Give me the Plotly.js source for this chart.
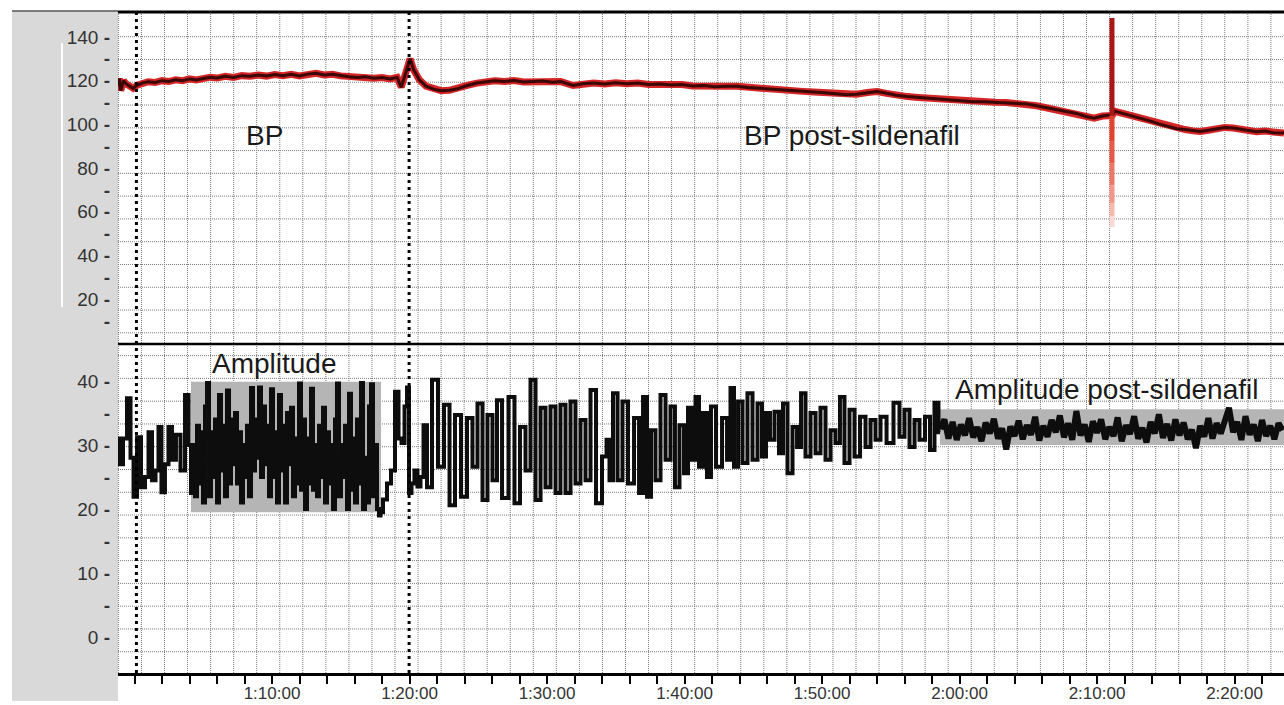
<!DOCTYPE html>
<html><head><meta charset="utf-8">
<script src="https://cdn.plot.ly/plotly-3.0.1.min.js"></script>
<style>html,body{margin:0;padding:0;background:#fff}#chart{width:1284px;height:705px}</style>
</head><body><div id="chart"></div>
<script>
// ---------- DATA (time in minutes from 0:00:00) ----------
const bpTime = [58.8,58.9,59.0,59.2,59.4,59.7,59.9,60.2,60.6,61.0,61.5,62.0,62.5,63.0,63.5,64.0,64.5,65.0,65.5,66.0,66.6,67.2,67.8,68.4,69.0,69.6,70.2,70.8,71.4,72.0,72.6,73.2,73.8,74.4,75.0,75.6,76.2,76.8,77.4,78.0,78.6,79.1,79.4,79.6,79.85,80.04,80.3,80.7,81.2,81.8,82.3,82.9,83.5,84.2,84.9,85.5,86.2,86.9,87.6,88.3,89.0,89.7,90.4,91.0,91.9,92.6,93.4,94.2,95.0,95.8,96.6,97.4,98.2,99.0,99.8,100.6,101.4,102.2,103.0,103.8,104.6,105.4,106.2,107.0,107.8,108.6,109.4,110.2,111.0,111.8,112.5,113.3,114.0,114.7,115.4,116.2,117.0,117.8,118.6,119.4,120.2,121.0,121.8,122.6,123.4,124.2,124.9,125.6,126.3,127.1,127.8,128.5,129.2,129.8,130.4,130.9,131.1,131.3,131.6,132.0,132.6,133.2,133.9,134.5,135.2,135.8,136.4,137.0,137.5,138.1,138.7,139.3,139.9,140.5,141.0,141.6,142.2,142.8,143.6];
const bpValue = [117.5,121,115.5,120,118.5,117.5,116.5,118,119,119.5,119.2,120,119.6,120.4,120,120.8,120.3,121,121.6,121.2,122,121.5,122.3,122,122.6,122.1,122.8,122.3,122.9,122.2,123,123.4,122.6,122.9,122.2,121.8,121.5,121.8,121.1,121.4,120.8,121.5,117,121,126,130,125,120.5,117.5,116,115.4,115.6,116.3,117.8,118.9,119.5,120,119.6,120.1,119.4,119.5,119.9,119.3,119.6,117.8,118.6,118.9,118.5,119,118.6,118.9,118.3,118.5,118,118.2,117.6,117.8,117.2,117.5,117.4,116.9,116.6,116.1,115.9,115.6,115.1,114.8,114.5,114,113.5,113.8,114.6,115,114.2,113.3,112.7,112.3,111.9,111.5,111.2,110.8,110.4,110.3,110.1,110,109.6,109.3,108.5,107.6,106.6,105.8,105,103.6,102.8,103.8,104.3,104,106,105.5,104.8,103.9,102.8,101.5,100.2,99.1,98,97.6,97,96.7,97.3,98,98.6,98.3,97.7,97.1,96.6,96.9,96.2,96];

const spikeTime = 131.09;
const spikeLevels = [148.7, 104, 92, 82, 72, 64, 58, 53];

const ampTime = [58.80,59.02,59.31,59.60,59.82,60.04,60.33,60.62,60.91,61.13,61.42,61.64,61.85,62.07,62.36,62.58,62.87,63.16,63.53,63.82,64.04,64.18,
64.33,64.47,64.62,64.76,64.91,65.05,65.20,65.35,65.49,65.64,65.78,65.93,66.07,66.22,66.36,66.51,66.65,66.80,66.95,67.09,67.24,67.38,67.53,67.67,67.82,67.96,68.11,68.25,68.40,68.55,68.69,68.84,68.98,69.13,69.27,69.42,69.56,69.71,69.85,70.00,70.15,70.29,70.44,70.58,70.73,70.87,71.02,71.16,71.31,71.45,71.60,71.75,71.89,72.04,72.18,72.33,72.47,72.62,72.76,72.91,73.05,73.20,73.35,73.49,73.64,73.78,73.93,74.07,74.22,74.36,74.51,74.65,74.80,74.95,75.09,75.24,75.38,75.53,75.67,75.82,75.96,76.11,76.25,76.40,76.55,76.69,76.84,76.98,77.13,77.27,77.42,77.56,77.71,77.85,
77.93,78.22,78.51,78.80,79.09,79.31,79.53,79.75,79.89,80.04,80.25,80.47,80.69,80.91,81.13,81.42,
81.85,82.29,82.73,83.09,83.53,83.96,84.40,84.76,85.13,85.49,85.85,86.22,86.51,86.95,87.45,87.82,88.25,88.62,88.98,89.35,89.71,90.07,90.44,90.80,91.16,91.53,91.89,92.25,92.62,92.98,93.35,93.78,94.22,94.44,94.65,94.95,95.31,95.67,96.11,96.55,96.84,97.13,97.42,97.71,98.07,98.44,98.80,99.16,99.45,99.82,100.11,100.40,100.69,100.91,101.20,101.49,101.78,102.07,102.51,102.95,103.24,103.45,103.75,104.04,104.40,104.76,105.13,105.49,105.78,106.07,106.36,106.73,107.02,107.31,107.67,108.04,108.33,108.62,108.98,109.35,109.71,110.07,110.44,110.80,111.16,111.45,111.82,112.18,
112.55,112.98,113.35,113.71,114.07,114.44,114.95,115.45,115.82,116.18,116.55,116.91,117.27,117.71,118.00,118.36,118.58];
const ampValue = [31,27,31,37.3,28,21.9,31.2,23.4,25,32,24.5,26,32.8,22.6,27,32.8,27.7,31.6,26,37.8,30,22.5,
30,22,33,24,32,21,36,39.7,22,32,25,34,21,37.8,26,33,22,38.5,24,34,27,35,24,32,21,30,25,33,22,38.9,26,34,28,39,25,36,27,33,22,38.7,25,32,21,37.8,26,33,21,35,27,35.8,22,31,24,39.6,23,34,20,31,24,38.8,23,30,22,33,25,35.8,21,32,24,30,20,34,39.6,22,30,25,33,20,38,23,31,21,34,24,39.7,20,28,21,36,39.5,22,30,20,19,
19.5,21.5,24,26,38.3,31,30.3,36,39,22.5,24,26,23.5,25,33.1,23.4,
40.2,26.6,36.3,20.6,34.7,21.9,34.2,26.6,36.5,21.4,34.7,24.5,37,21.7,37.5,20.9,32.8,26,40.2,21.4,35.8,23.4,36,22.5,36.3,22.5,36.8,24,33.9,24.5,38.6,20.9,28.2,30.8,24.5,38.1,24.5,36.8,24,34.2,22.5,37.5,21.9,32.3,24.5,37.8,27.7,36,23.4,33.1,25.6,35.8,27.7,37.5,26.6,35,25,36,26.6,34.2,27.7,38.9,26.6,36.8,27.2,38.1,27.7,36.5,28.2,35,30.8,35.2,28.7,36.5,25.6,32.8,29.7,38.1,28.2,35,28.7,35.8,27.7,32.3,30.3,37.5,27.2,35.5,
28.2,34.4,29.7,33.9,30.8,34.4,30.3,36.6,31.3,35.5,29.7,33.9,30.8,34.4,29.2,36.6,32];

const ampPostStart = 118.6;
const ampPostStep = 0.3;
const ampPostValue = [32.5,34.0,31.0,33.6,30.8,33.2,31.5,34.2,31.2,32.8,30.6,33.5,31.8,34.1,31.0,32.6,29.3,32.9,31.4,33.8,30.9,33.1,31.6,34.4,30.7,33.0,31.3,33.9,32.0,34.6,31.2,33.4,30.8,35.3,31.5,33.2,30.5,33.7,31.9,34.0,30.9,32.8,31.4,34.3,30.6,33.1,31.7,34.5,31.0,32.7,30.4,33.6,31.8,34.8,31.1,33.3,30.7,34.0,31.5,33.5,30.9,32.4,29.5,33.0,31.3,34.2,31.0,33.4,31.8,34.0,35.8,32.0,33.6,30.8,34.5,31.6,33.2,30.6,33.9,31.4,33.0,30.9,33.4,32.3];

const markerTimes = [60.14, 79.97];
const boxTimes = [[64.11, 77.93], [118.58, 143.6]];
const boxValues = [[19.5, 39.9], [30.0, 35.6]];

const xTickMinutes = [70, 80, 90, 100, 110, 120, 130, 140];
const xTickLabels = ['1:10:00','1:20:00','1:30:00','1:40:00','1:50:00','2:00:00','2:10:00','2:20:00'];
const bpTickVals = [10,20,30,40,50,60,70,80,90,100,110,120,130,140];
const ampTickVals = [0,5,10,15,20,25,30,35,40];

const labelBP = 'BP', labelBPpost = 'BP post-sildenafil';
const labelAmp = 'Amplitude', labelAmpPost = 'Amplitude post-sildenafil';

// ---------- BUILD ----------
const FONT = 'Liberation Sans, Arial, Helvetica, sans-serif';
const W = 1284, H = 705, ML = 118, MR = 0, MT = 12, MB = 32;
const PW = W - ML - MR, PH = H - MT - MB;
const px2x = p => (p - ML) / PW;
const py2y = p => (H - MB - p) / PH;

const ampPostTime = ampPostValue.map((_, i) => ampPostStart + i * ampPostStep);

const traces = [];
traces.push({x: ampTime, y: ampValue, xaxis: 'x', yaxis: 'y2', mode: 'lines',
  line: {color: '#0d0d0d', width: 4, shape: 'hvh'}, hoverinfo: 'skip'});
traces.push({x: ampPostTime, y: ampPostValue, xaxis: 'x', yaxis: 'y2', mode: 'lines',
  line: {color: '#0d0d0d', width: 6}, hoverinfo: 'skip'});
traces.push({x: bpTime, y: bpValue, xaxis: 'x', yaxis: 'y', mode: 'lines',
  line: {color: '#d42626', width: 7}, hoverinfo: 'skip'});
traces.push({x: bpTime, y: bpValue, xaxis: 'x', yaxis: 'y', mode: 'lines',
  line: {color: '#3a0606', width: 3}, hoverinfo: 'skip'});
const spikeColors = ['#a81818', '#e2432f', '#e55a46', '#ea7866', '#f09787', '#f5b9ad', '#f9d9d2'];
for (let i = 0; i < spikeLevels.length - 1; i++) {
  traces.push({x: [spikeTime, spikeTime], y: [spikeLevels[i], spikeLevels[i + 1]], xaxis: 'x', yaxis: 'y',
    mode: 'lines', line: {color: spikeColors[i], width: 5}, hoverinfo: 'skip'});
}

const shapes = [];
shapes.push({type: 'rect', xref: 'paper', yref: 'paper', x0: px2x(12), x1: 0, y0: py2y(701), y1: py2y(11),
  fillcolor: '#d9d9d9', line: {width: 0}, layer: 'below'});
shapes.push({type: 'line', xref: 'paper', yref: 'paper', x0: px2x(62), x1: px2x(62), y0: py2y(43), y1: py2y(307),
  line: {color: '#ffffff', width: 2}, layer: 'below'});
for (let k = 0; k <= 50; k++) {
  const xp = px2x(118.4 + 23.05 * k);
  if (xp > 1) break;
  shapes.push({type: 'line', xref: 'paper', yref: 'paper', x0: xp, x1: xp, y0: 0, y1: 1,
    line: {color: '#7a7a7a', width: 1, dash: '1px,1px'}, layer: 'below'});
}
for (let k = 1; k <= 28; k++) {
  const yp = py2y(13.9 + 22.78 * k);
  shapes.push({type: 'line', xref: 'paper', yref: 'paper', x0: 0, x1: 1, y0: yp, y1: yp,
    line: {color: '#7a7a7a', width: 1, dash: '1px,1px'}, layer: 'below'});
}
for (let i = 0; i < boxTimes.length; i++) {
  shapes.push({type: 'rect', xref: 'x', yref: 'y2', x0: boxTimes[i][0], x1: boxTimes[i][1],
    y0: boxValues[i][0], y1: boxValues[i][1], fillcolor: '#b5b5b5', line: {width: 0}, layer: 'below'});
}
shapes.push({type: 'line', xref: 'paper', yref: 'paper', x0: px2x(12), x1: 0, y0: py2y(11), y1: py2y(11),
  line: {color: '#555', width: 1.5}});
shapes.push({type: 'line', xref: 'paper', yref: 'paper', x0: 0, x1: 1, y0: py2y(12), y1: py2y(12),
  line: {color: '#000', width: 3}});
shapes.push({type: 'line', xref: 'paper', yref: 'paper', x0: 0, x1: 1, y0: py2y(344), y1: py2y(344),
  line: {color: '#000', width: 2.5}});
markerTimes.forEach(t => shapes.push({type: 'line', xref: 'x', yref: 'paper', x0: t, x1: t, y0: 0, y1: 1,
  line: {color: '#000', width: 3, dash: '3px,4px'}}));

const yTickText = (vals, step) => vals.map(v => v % step === 0 ? v + ' <b>-</b>' : '<b>-</b>');
const dom = py2y(344);
const tickFont = {family: FONT, size: 19, color: '#333'};
const layout = {
  width: W, height: H, margin: {l: ML, r: MR, t: MT, b: MB, pad: 0},
  paper_bgcolor: '#ffffff', plot_bgcolor: '#ffffff', showlegend: false,
  font: {family: FONT, size: 17, color: '#333'},
  xaxis: {anchor: 'y2', range: [58.8, 143.6], showgrid: false, zeroline: false,
    showline: true, linecolor: '#000', linewidth: 3,
    tickmode: 'array', tickvals: xTickMinutes, ticktext: xTickLabels,
    ticks: 'outside', ticklen: 8, tickwidth: 2, tickcolor: '#000', ticklabelstandoff: -5,
    minor: {tickmode: 'linear', tick0: 0, dtick: 2, ticks: 'outside', ticklen: 8, tickwidth: 2, tickcolor: '#000', showgrid: false},
    tickfont: {family: FONT, size: 17, color: '#333'}},
  yaxis: {domain: [dom, 1], range: [-0.6, 151.45], showgrid: false, zeroline: false, showline: false,
    tickmode: 'array', tickvals: bpTickVals, ticktext: yTickText(bpTickVals, 20),
    ticks: '', ticklabelstandoff: 7, tickfont: tickFont},
  yaxis2: {domain: [0, dom], range: [-5.625, 45.78], showgrid: false, zeroline: false, showline: false,
    tickmode: 'array', tickvals: ampTickVals, ticktext: yTickText(ampTickVals, 10),
    ticks: '', ticklabelstandoff: 7, tickfont: tickFont},
  shapes: shapes,
  annotations: [
    {x: 69.45, y: 95.1, xref: 'x', yref: 'y', text: labelBP, showarrow: false, font: {family: FONT, size: 28, color: '#1a1a1a'}},
    {x: 112.18, y: 95.1, xref: 'x', yref: 'y', text: labelBPpost, showarrow: false, font: {family: FONT, size: 28, color: '#1a1a1a'}},
    {x: 70.15, y: 42.8, xref: 'x', yref: 'y2', text: labelAmp, showarrow: false, font: {family: FONT, size: 28, color: '#1a1a1a'}},
    {x: 130.73, y: 38.6, xref: 'x', yref: 'y2', text: labelAmpPost, showarrow: false, font: {family: FONT, size: 28, color: '#1a1a1a'}}
  ]
};
Plotly.newPlot('chart', traces, layout, {staticPlot: true, displayModeBar: false});
</script></body></html>
